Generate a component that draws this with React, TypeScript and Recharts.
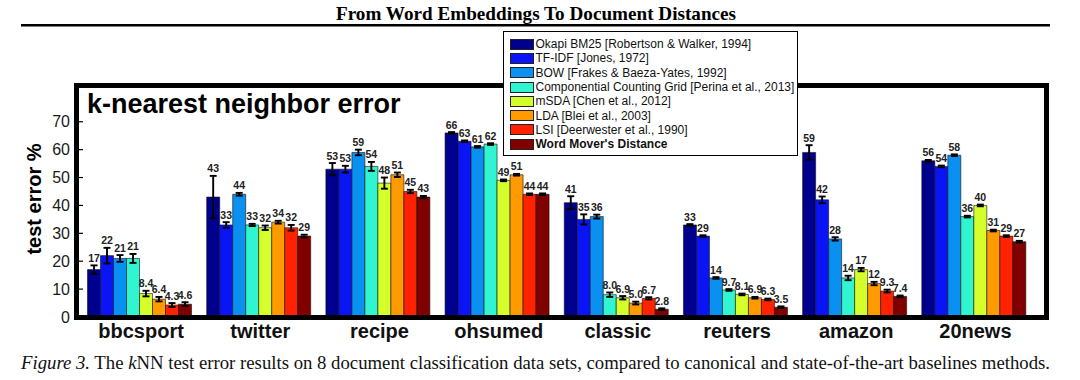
import React from 'react';
import { BarChart, Bar, XAxis, YAxis, ErrorBar, LabelList, Legend } from 'recharts';

const categories = ['bbcsport', 'twitter', 'recipe', 'ohsumed', 'classic', 'reuters', 'amazon', '20news'];

const methods = [
  'Okapi BM25 [Robertson & Walker, 1994]',
  'TF-IDF [Jones, 1972]',
  'BOW [Frakes & Baeza-Yates, 1992]',
  'Componential Counting Grid [Perina et al., 2013]',
  'mSDA [Chen et al., 2012]',
  'LDA [Blei et al., 2003]',
  'LSI [Deerwester et al., 1990]',
  "Word Mover's Distance",
];

const colors = ['#00008F', '#0A14F5', '#0A90F0', '#30F5D0', '#D4FF2A', '#FF9A00', '#FF2200', '#800000'];

const okapi = [17, 43, 53, 66, 41, 33, 59, 56];
const tfidf = [22, 33, 53, 63, 35, 29, 42, 54];
const bow = [21, 44, 59, 61, 36, 14, 28, 58];
const ccg = [21, 33, 54, 62, 8.0, 9.7, 14, 36];
const msda = [8.4, 32, 48, 49, 6.9, 8.1, 17, 40];
const lda = [6.4, 34, 51, 51, 5.0, 6.9, 12, 31];
const lsi = [4.3, 32, 45, 44, 6.7, 6.3, 9.3, 29];
const wmd = [4.6, 29, 43, 44, 2.8, 3.5, 7.4, 27];

const okapiErr = [1.5, 7.6, 2.2, 0.3, 2.3, 0.3, 2.6, 0.3];
const tfidfErr = [2.8, 1.0, 1.2, 0.3, 1.8, 0.3, 1.2, 0.3];
const bowErr = [1.2, 0.5, 1.0, 0.3, 0.7, 0.3, 0.6, 0.3];
const ccgErr = [1.6, 0.4, 1.6, 0.3, 0.8, 0.3, 0.8, 0.3];
const msdaErr = [1.0, 0.8, 2.0, 0.3, 0.6, 0.3, 0.6, 0.3];
const ldaErr = [0.8, 0.5, 0.8, 0.3, 0.5, 0.3, 0.6, 0.3];
const lsiErr = [0.7, 1.0, 0.6, 0.3, 0.4, 0.3, 0.5, 0.3];
const wmdErr = [0.7, 0.5, 0.4, 0.3, 0.3, 0.3, 0.3, 0.3];

const yTicks = [0, 10, 20, 30, 40, 50, 60, 70];

const seriesValues = [okapi, tfidf, bow, ccg, msda, lda, lsi, wmd];
const seriesErrors = [okapiErr, tfidfErr, bowErr, ccgErr, msdaErr, ldaErr, lsiErr, wmdErr];

const data = categories.map((name, i) => {
  const row: Record<string, any> = { name };
  seriesValues.forEach((s, j) => {
    row['v' + j] = s[i];
    row['e' + j] = seriesErrors[j][i];
  });
  return row;
});

const fmt = (v: number) => (v < 10 ? v.toFixed(1) : String(Math.round(v)));

const FONT = '"Liberation Sans", Arial, Helvetica, sans-serif';
const SERIF = '"Liberation Serif", "Times New Roman", Times, serif';

const makeLabel = (j: number) => (props: any) => {
  const vb = props.viewBox || {};
  const x = props.x ?? vb.x;
  const y = props.y ?? vb.y;
  const width = props.width ?? vb.width;
  const height = props.height ?? vb.height;
  const index = props.index;
  const value = Number(props.value);
  if (x == null || y == null || !value) return null;
  const err = seriesErrors[j][index] || 0;
  const errPx = (err * Math.abs(height)) / value;
  return (
    <text
      x={x + width / 2}
      y={y - errPx - 3.5}
      textAnchor="middle"
      fontSize={10.5}
      fontWeight="bold"
      fill="#222"
      fontFamily={FONT}
    >
      {fmt(value)}
    </text>
  );
};

const YTick = (props: any) => {
  const { x, y, payload } = props;
  return (
    <g>
      <text x={x} y={y} dy="0.355em" textAnchor="end" fontSize={16} fill="#1a1a1a" fontFamily={FONT}>
        {payload.value}
      </text>
      <line x1={x + 9} x2={x + 13} y1={y} y2={y} stroke="#000" strokeWidth={1.2} />
    </g>
  );
};

const LegendBox = () => (
  <div
    style={{
      boxSizing: 'border-box',
      width: 295,
      height: 125,
      border: '1.5px solid #000',
      background: '#fff',
      padding: '5px 0 0 5.5px',
      fontFamily: FONT,
      fontSize: 12,
      color: '#111',
    }}
  >
    {methods.map((m, j) => (
      <div key={m} style={{ display: 'flex', alignItems: 'center', height: 14.3, whiteSpace: 'nowrap' }}>
        <span
          style={{
            display: 'inline-block',
            boxSizing: 'border-box',
            width: 24,
            height: 11,
            background: colors[j],
            border: '1px solid #222',
            marginRight: 2,
          }}
        />
        <span style={{ fontWeight: j === methods.length - 1 ? 'bold' : 'normal' }}>{m}</span>
      </div>
    ))}
  </div>
);

export default function App() {
  return (
    <div
      style={{
        position: 'absolute',
        left: 0,
        top: 0,
        width: 1080,
        height: 380,
        background: '#fff',
        fontFamily: FONT,
        overflow: 'hidden',
      }}
    >
      <BarChart
        width={1080}
        height={380}
        data={data}
        margin={{ top: 85.5, right: 33.5, bottom: 0, left: 0 }}
        barCategoryGap={6}
        barGap={0}
      >
        <XAxis
          dataKey="name"
          height={63}
          axisLine={false}
          tickLine={false}
          tickSize={0}
          tickMargin={7}
          padding={{ left: 5, right: 11.5 }}
          interval={0}
          tick={{ fontSize: 20, fontWeight: 'bold', fill: '#111', fontFamily: FONT }}
        />
        <YAxis
          width={76.5}
          domain={[0, 83]}
          ticks={yTicks}
          axisLine={false}
          tickLine={false}
          tickSize={0}
          tickMargin={6.5}
          tick={<YTick />}
          allowDataOverflow
        />
        <Legend
          layout="vertical"
          align="center"
          verticalAlign="middle"
          content={<LegendBox />}
          wrapperStyle={{ left: 503, top: 31, width: 295, height: 125, zIndex: 10 }}
        />
        {methods.map((m, j) => (
          <Bar
            key={m}
            dataKey={'v' + j}
            name={m}
            fill={colors[j]}
            stroke="#111"
            strokeWidth={0.6}
            isAnimationActive={false}
          >
            <ErrorBar
              dataKey={'e' + j}
              width={3.5}
              strokeWidth={1.9}
              stroke="#000"
              direction="y"
              isAnimationActive={false}
            />
            <LabelList dataKey={'v' + j} content={makeLabel(j)} />
          </Bar>
        ))}
      </BarChart>
      <svg
        width={1080}
        height={380}
        style={{ position: 'absolute', left: 0, top: 0, pointerEvents: 'none' }}
      >
        <text
          x={536}
          y={19.5}
          textAnchor="middle"
          fontFamily={SERIF}
          fontWeight="bold"
          fontSize={19}
          textLength={400}
          lengthAdjust="spacingAndGlyphs"
          fill="#000"
        >
          From Word Embeddings To Document Distances
        </text>
        <line x1={21} x2={1050} y1={25.3} y2={25.3} stroke="#000" strokeWidth={2.5} />
        <rect x={76.5} y={85.5} width={970} height={232} fill="none" stroke="#000" strokeWidth={5} />
        <text x={87} y={113} fontFamily={FONT} fontWeight="bold" fontSize={27} fill="#000">
          k-nearest neighbor error
        </text>
        <text
          x={41}
          y={199}
          transform="rotate(-90 41 199)"
          textAnchor="middle"
          fontFamily={FONT}
          fontWeight="bold"
          fontSize={20}
          fill="#000"
        >
          test error %
        </text>
        <text
          x={21}
          y={369}
          fontFamily={SERIF}
          fontSize={18}
          fill="#111"
          textLength={1029}
          lengthAdjust="spacingAndGlyphs"
        >
          <tspan fontStyle="italic">Figure 3.</tspan> The <tspan fontStyle="italic">k</tspan>NN test error results on 8
          document classification data sets, compared to canonical and state-of-the-art baselines methods.
        </text>
      </svg>
    </div>
  );
}
